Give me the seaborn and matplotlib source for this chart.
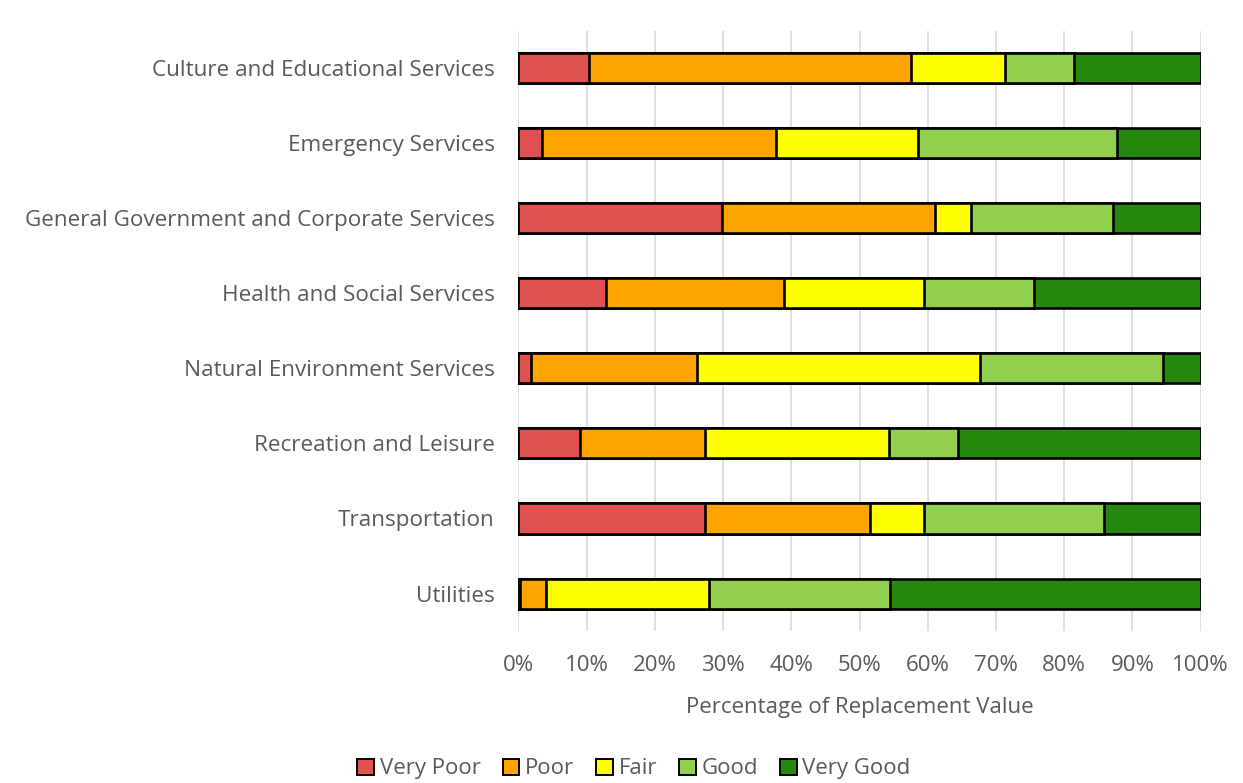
import numpy as np
import pandas as pd
import matplotlib
matplotlib.use("Agg")
import matplotlib.pyplot as plt
import seaborn as sns
from matplotlib.ticker import FuncFormatter
from matplotlib.patches import Patch

categories = ["Culture and Educational Services", "Emergency Services",
              "General Government and Corporate Services", "Health and Social Services",
              "Natural Environment Services", "Recreation and Leisure",
              "Transportation", "Utilities"]
conditions = ["Very Poor", "Poor", "Fair", "Good", "Very Good"]
very_poor = [10.4, 3.4, 29.8, 12.8, 1.9, 9.0, 27.4, 0.2]
poor      = [47.1, 34.3, 31.2, 26.1, 24.3, 18.3, 24.1, 3.8]
fair      = [13.8, 20.9, 5.3, 20.5, 41.5, 27.0, 8.0, 24.0]
good      = [10.2, 29.2, 20.9, 16.1, 26.7, 10.1, 26.3, 26.5]
very_good = [18.5, 12.2, 12.8, 24.5, 5.6, 35.6, 14.2, 45.5]
colors = ["#E05252", "#FFA500", "#FFFF00", "#92D050", "#26870E"]

sns.set_theme(style="white")
plt.rcParams['font.family'] = ['Open Sans', 'DejaVu Sans']
text_color = "#595959"

df = pd.DataFrame({"category": categories, "Very Poor": very_poor, "Poor": poor,
                   "Fair": fair, "Good": good, "Very Good": very_good})
cum = df[conditions].cumsum(axis=1)

fig = plt.figure(figsize=(12.43, 7.83), dpi=100)
ax = fig.add_axes([0.417, 0.194, 0.549, 0.767])

for cond, col in reversed(list(zip(conditions, colors))):
    d = pd.DataFrame({"category": categories, "value": cum[cond]})
    sns.barplot(data=d, y="category", x="value", orient="h", color=col,
                width=0.4, edgecolor="black", linewidth=1.9, saturation=1,
                ax=ax, zorder=3)

ax.set_xlim(0, 100)
ax.set_xticks(np.arange(0, 101, 10))
ax.xaxis.set_major_formatter(FuncFormatter(lambda v, p: f"{int(v)}%"))
ax.grid(axis="x", color="#D9D9D9", linewidth=1.2, zorder=0)
ax.grid(axis="y", visible=False)
for s in ax.spines.values():
    s.set_visible(False)
ax.tick_params(axis="y", length=0, labelsize=16.2, labelcolor=text_color, pad=17)
ax.tick_params(axis="x", length=0, labelsize=16, labelcolor=text_color, pad=17)
ax.set_ylabel("")
ax.set_xlabel("Percentage of Replacement Value", fontsize=16, color=text_color, labelpad=15)

handles = [Patch(facecolor=c, edgecolor="black", linewidth=1.4, label=l)
           for l, c in zip(conditions, colors)]
fig.legend(handles=handles, loc="center", bbox_to_anchor=(0.51, 0.018), ncol=5,
           frameon=False, fontsize=16, labelcolor=text_color, handlelength=0.75,
           handleheight=0.75, handletextpad=0.25, columnspacing=1.0)

fig.savefig("out.png", dpi=100)
